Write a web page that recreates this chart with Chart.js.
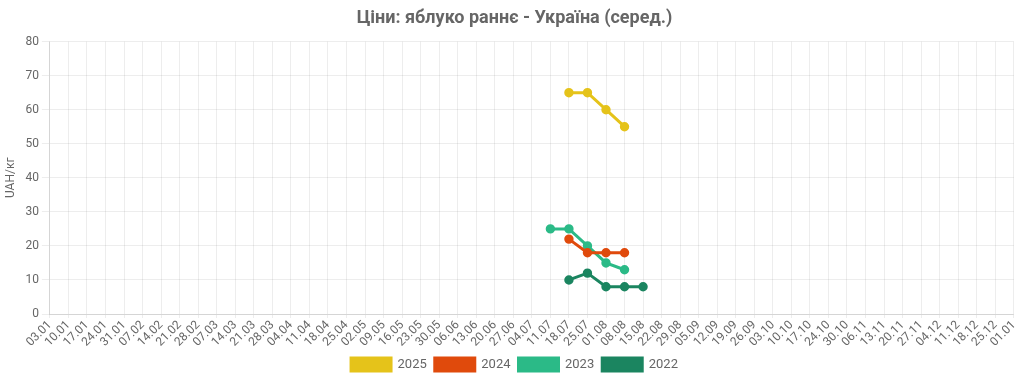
<!DOCTYPE html>
<html>
<head>
<meta charset="utf-8">
<script src="https://cdn.jsdelivr.net/npm/chart.js@4.4.0/dist/chart.umd.min.js"></script>
<style>
html,body{margin:0;padding:0;background:#fff;}
#wrap{width:1024px;height:379px;position:relative;}
</style>
</head>
<body>
<div id="wrap"><canvas id="c"></canvas></div>
<script>
const categories = ["03.01","10.01","17.01","24.01","31.01","07.02","14.02","21.02","28.02","07.03","14.03","21.03","28.03","04.04","11.04","18.04","25.04","02.05","09.05","16.05","23.05","30.05","06.06","13.06","20.06","27.06","04.07","11.07","18.07","25.07","01.08","08.08","15.08","22.08","29.08","05.09","12.09","19.09","26.09","03.10","10.10","17.10","24.10","30.10","06.11","13.11","20.11","27.11","04.12","11.12","18.12","25.12","01.01"];
const seriesNames = ["2025","2024","2023","2022"];
const seriesColors = ["#E5C31A","#E04A0C","#2BBA87","#1B8560"];
// values keyed by category label
const s2025 = {"18.07":65,"25.07":65,"01.08":60,"08.08":55};
const s2024 = {"18.07":22,"25.07":18,"01.08":18,"08.08":18};
const s2023 = {"11.07":25,"18.07":25,"25.07":20,"01.08":15,"08.08":13};
const s2022 = {"18.07":10,"25.07":12,"01.08":8,"08.08":8,"15.08":8};
const yTicks = [0,10,20,30,40,50,60,70,80];

const seriesData = [s2025,s2024,s2023,s2022];
const datasets = seriesNames.map((n,i)=>({
  label:n,
  data: categories.map(c => (c in seriesData[i]) ? seriesData[i][c] : null),
  borderColor: seriesColors[i],
  backgroundColor: seriesColors[i],
  borderWidth: 3,
  pointRadius: 3.2,
  pointHoverRadius: 4,
  tension: 0,
  spanGaps: false
}));

Chart.defaults.font.family = "Roboto, 'Noto Sans', sans-serif";
Chart.defaults.color = "#666";

new Chart(document.getElementById('c'), {
  type:'line',
  data:{labels:categories, datasets},
  options:{
    responsive:true,
    maintainAspectRatio:false,
    animation:false,
    layout:{padding:{left:0,right:-5,top:0,bottom:-2}},
    plugins:{
      title:{display:true,text:"Ціни: яблуко раннє - Україна (серед.)",font:{size:18,weight:'bold'},color:'#666',padding:{top:8,bottom:12}},
      legend:{position:'bottom',labels:{boxWidth:40,boxHeight:13,font:{size:13},color:'#666',padding:8}},
      tooltip:{enabled:false}
    },
    scales:{
      x:{
        offset:false,
        grid:{color:'rgba(0,0,0,0.07)',tickLength:4},
        ticks:{autoSkip:false,maxRotation:45,minRotation:45,padding:0,font:{size:12},color:'#666'},
        afterFit: s => { s.height = 36; }
      },
      y:{
        min:0,max:80,
        afterBuildTicks: ax => { ax.ticks = yTicks.map(v=>({value:v})); },
        grid:{color:'rgba(0,0,0,0.07)'},
        ticks:{font:{size:12},color:'#666'},
        title:{display:true,text:'UAH/кг',font:{size:12},color:'#666'}
      }
    }
  }
});
</script>
</body>
</html>
